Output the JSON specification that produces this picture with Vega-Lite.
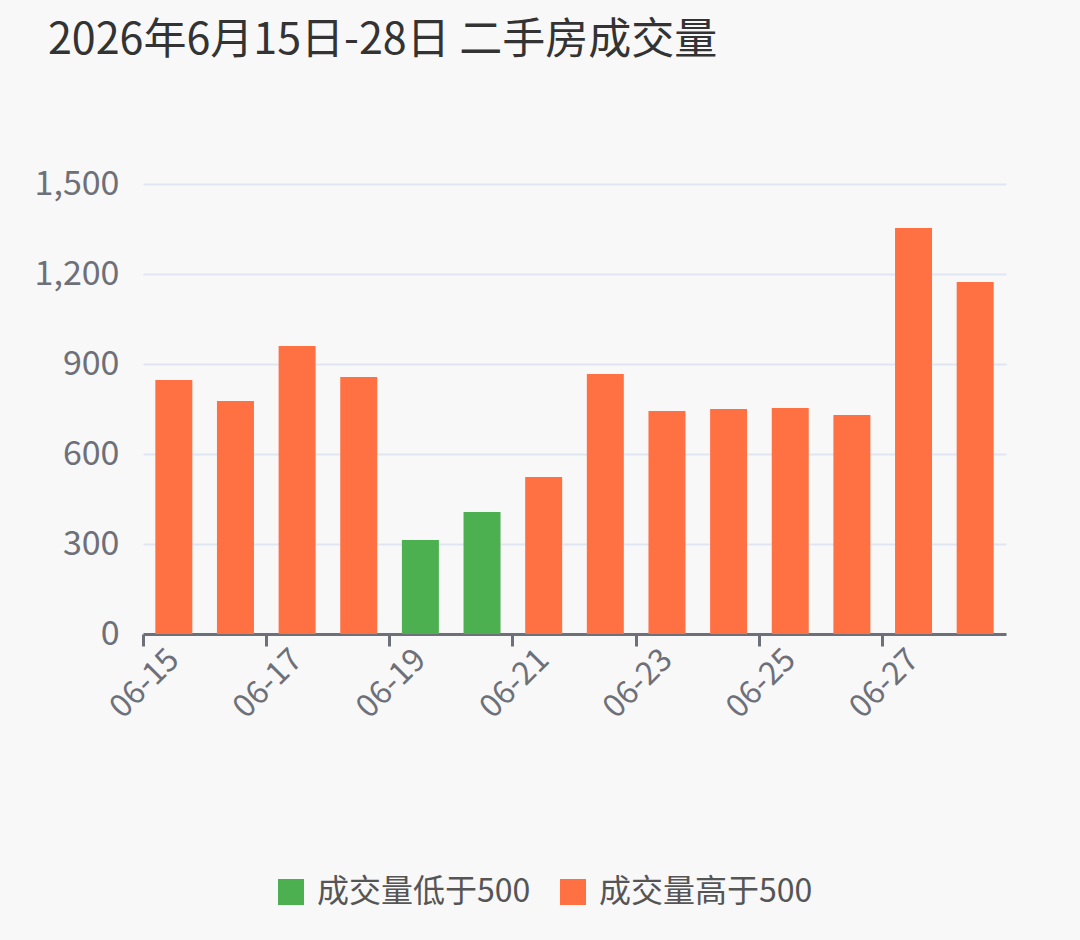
{
  "$schema": "https://vega.github.io/schema/vega-lite/v6.json",
  "width": 863,
  "height": 450,
  "autosize": {"type": "none"},
  "padding": {"left": 143, "top": 184, "right": 74, "bottom": 306},
  "background": "#f8f8f8",
  "title": {
    "text": "2026年6月15日-28日 二手房成交量",
    "anchor": "start",
    "frame": "group",
    "dx": -95,
    "offset": 104,
    "fontSize": 43,
    "fontWeight": "normal",
    "font": "Noto Sans CJK SC",
    "color": "#333333"
  },
  "data": {
    "values": [
      {"date": "06-15", "count": 847, "cat": "成交量高于500"},
      {"date": "06-16", "count": 777, "cat": "成交量高于500"},
      {"date": "06-17", "count": 960, "cat": "成交量高于500"},
      {"date": "06-18", "count": 857, "cat": "成交量高于500"},
      {"date": "06-19", "count": 313, "cat": "成交量低于500"},
      {"date": "06-20", "count": 407, "cat": "成交量低于500"},
      {"date": "06-21", "count": 523, "cat": "成交量高于500"},
      {"date": "06-22", "count": 867, "cat": "成交量高于500"},
      {"date": "06-23", "count": 743, "cat": "成交量高于500"},
      {"date": "06-24", "count": 750, "cat": "成交量高于500"},
      {"date": "06-25", "count": 753, "cat": "成交量高于500"},
      {"date": "06-26", "count": 730, "cat": "成交量高于500"},
      {"date": "06-27", "count": 1353, "cat": "成交量高于500"},
      {"date": "06-28", "count": 1173, "cat": "成交量高于500"}
    ]
  },
  "mark": {"type": "bar", "width": {"band": 0.6}},
  "encoding": {
    "x": {
      "field": "date",
      "type": "ordinal",
      "sort": null,
      "scale": {"paddingInner": 0, "paddingOuter": 0},
      "axis": {
        "title": null,
        "values": ["06-15", "06-17", "06-19", "06-21", "06-23", "06-25", "06-27"],
        "bandPosition": 0,
        "labelAngle": -45,
        "labelAlign": "right",
        "labelBaseline": "middle",
        "labelFontSize": 32,
        "labelFont": "Noto Sans CJK SC",
        "labelColor": "#6e7079",
        "labelPadding": 8,
        "domainColor": "#6e7079",
        "domainWidth": 3,
        "tickColor": "#6e7079",
        "tickWidth": 3,
        "tickSize": 12,
        "grid": false
      }
    },
    "y": {
      "field": "count",
      "type": "quantitative",
      "scale": {"domain": [0, 1500], "nice": false},
      "axis": {
        "title": null,
        "values": [0, 300, 600, 900, 1200, 1500],
        "format": ",d",
        "domain": false,
        "ticks": false,
        "grid": true,
        "gridColor": "#e0e6f1",
        "gridWidth": 2,
        "labelFontSize": 34,
        "labelFont": "Noto Sans CJK SC",
        "labelColor": "#6e7079",
        "labelPadding": 24
      }
    },
    "color": {
      "field": "cat",
      "type": "nominal",
      "scale": {
        "domain": ["成交量低于500", "成交量高于500"],
        "range": ["#4caf50", "#ff7043"]
      },
      "legend": {
        "title": null,
        "orient": "none",
        "direction": "horizontal",
        "legendX": 132,
        "legendY": 692,
        "symbolType": "square",
        "symbolSize": 676,
        "symbolStrokeWidth": 0,
        "symbolOpacity": 1,
        "labelFontSize": 32,
        "labelFont": "Noto Sans CJK SC",
        "labelColor": "#555555",
        "labelLimit": 400,
        "labelOffset": 10,
        "columnPadding": 26
      }
    }
  },
  "config": {
    "view": {"stroke": null}
  }
}
